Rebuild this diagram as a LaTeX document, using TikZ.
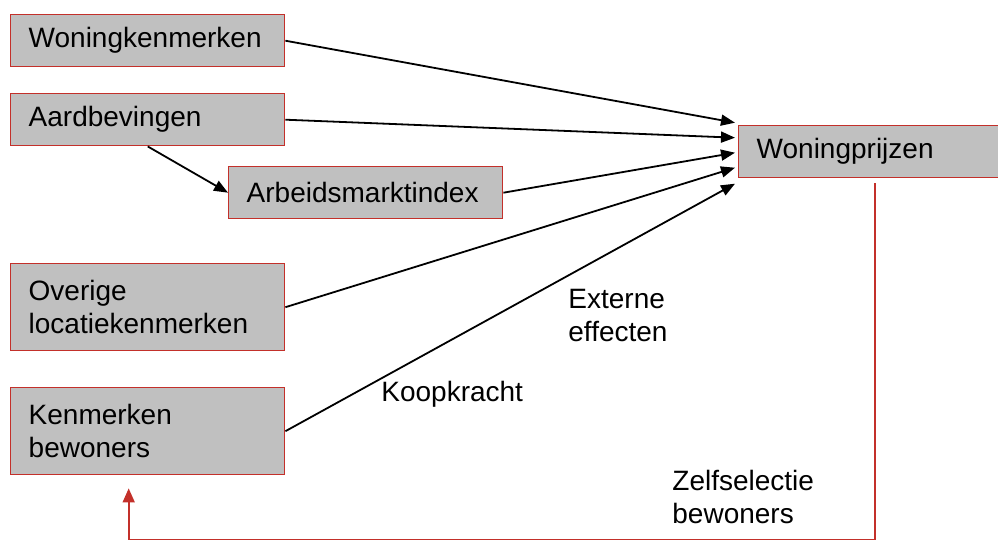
\documentclass[tikz,border=0pt]{standalone}
\usepackage{fontspec}
\setmainfont{Liberation Sans}
\usepackage{xcolor}
\usetikzlibrary{positioning}
\usetikzlibrary{arrows.meta, calc}

\definecolor{boxgray}{HTML}{C0C0C0}
\definecolor{boxred}{HTML}{C3302A}

\begin{document}
\begin{tikzpicture}[x=0.5pt, y=-0.5pt,
		factor/.style={draw=boxred, line width=0.7pt, fill=boxgray, anchor=north west,
			inner xsep=9pt, text width=119pt, align=left, minimum height=26pt,
			font=\fontsize{14pt}{16.5pt}\selectfont},
		effect/.style={line width=0.9pt, -{Triangle[length=7pt, width=5.5pt]}},
		feedback/.style={draw=boxred, line width=0.8pt, -{Triangle[length=7pt, width=6pt]}, color=boxred},
		lbl/.style={anchor=north west, inner sep=0pt, align=left,
			font=\fontsize{14pt}{16.5pt}\selectfont}
		]
		
		\clip (0,0) rectangle (998,541);
		
		\node[factor] (wk) at (10,14) {Woningkenmerken};
		\node[factor] (ab) at (10,93) {Aardbevingen};
		\node[factor] (ami) at (228,166) {Arbeidsmarktindex};
		\node[factor, minimum height=43.5pt] (olk) at (10,263) {Overige\\locatiekenmerken};
		\node[factor, minimum height=43.5pt] (kb) at (10,387) {Kenmerken\\bewoners};
		\node[factor, text width=160pt] (wp) at (738,125) {Woningprijzen};
		
		% ends of the arrows at Woningprijzen
		\coordinate (in1) at ($(wp.west)+(-3,-29)$);
		\coordinate (in2) at ($(wp.west)+(-3,-14)$);
		\coordinate (in3) at ($(wp.west)+(-3,1)$);
		\coordinate (in4) at ($(wp.west)+(-3,16)$);
		\coordinate (in5) at ($(wp.west)+(-3,32)$);
		
		\draw[effect] (wk.east) -- (in1);
		\draw[effect] (ab.east) -- (in2);
		\draw[effect] (ami.east) -- (in3);
		\draw[effect] (olk.east) -- (in4);
		\draw[effect] (kb.east) -- (in5);
		\draw[effect] (ab.south) -- (ami.west);
		
		% zelfselectie terug naar bewoners
		\coordinate (fbstart) at ($(wp.south west)+(137,5)$);
		\coordinate (fbend) at ($(kb.south)+(-19,13)$);
		\draw[feedback] (fbstart) -- ++(0,356) -| (fbend);
		
		\node[lbl] (ext) at (568,289) {Externe\\effecten};
		\node[lbl] (koop) at (381,381) {Koopkracht};
		\node[lbl] (zelf) at (672,470) {Zelfselectie\\bewoners};
	\end{tikzpicture}
\end{document}
